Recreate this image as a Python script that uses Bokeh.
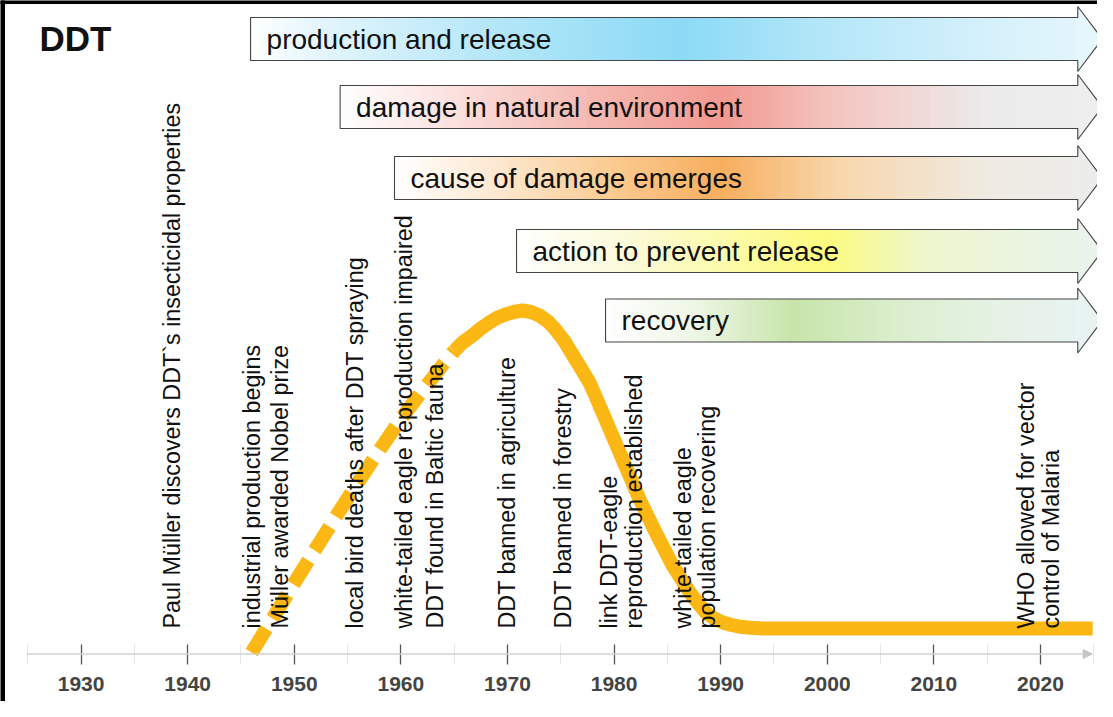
import numpy as np
from bokeh.plotting import figure
from bokeh.models import Range1d, FixedTicker, Arrow, NormalHead, Label
from bokeh.core.properties import value
from bokeh.embed import file_html
from bokeh.resources import INLINE

# ---------------- data ----------------
tick_years = [1930, 1940, 1950, 1960, 1970, 1980, 1990, 2000, 2010, 2020]
tick_labels = ["1930", "1940", "1950", "1960", "1970", "1980", "1990", "2000", "2010", "2020"]
minor_years = [1925, 1935, 1945, 1955, 1965, 1975, 1985, 1995, 2005, 2015, 2025]

phase_labels = ["production and release", "damage in natural environment",
                "cause of damage emerges", "action to prevent release", "recovery"]
phase_start = [1945.9, 1954.3, 1959.4, 1970.85, 1979.2]

event_years = [1938.5, 1946.0, 1948.7, 1955.7, 1960.3, 1963.2, 1970.0, 1975.2, 1980.7, 1987.6, 2019.8]
event_labels = [
    "Paul Müller discovers DDT`s insecticidal properties",
    "industrial production begins",
    "Müller awarded Nobel prize",
    "local bird deaths after DDT spraying",
    "white-tailed eagle reproduction impaired",
    "DDT found in Baltic fauna",
    "DDT banned in agriculture",
    "DDT banned in forestry",
    "link DDT-eagle\nreproduction established",
    "white-tailed eagle\npopulation recovering",
    "WHO allowed for vector\ncontrol of Malaria",
]

# relative DDT level (arbitrary units, height above the time axis)
curve_years = [1946, 1948, 1950, 1952, 1954, 1956, 1958, 1960, 1962, 1964, 1965,
               1965.8, 1966.7, 1967.5, 1968.3, 1969.0, 1969.8, 1970.6, 1971.4, 1972.2, 1973.0,
               1973.8, 1974.5, 1975.3, 1976.1, 1977.7, 1979.2,
               1980.8, 1982.4, 1983.9, 1985.5, 1987.1, 1987.9, 1988.6, 1989.4, 1990.2, 1991.0,
               1991.8, 1992.8, 1994, 2024.9]
curve_level = [1.5, 36, 71, 105, 139, 172, 204, 235, 263, 290, 303,
               311.5, 318.5, 325.5, 331.5, 336, 339.5, 342, 343.5, 342, 338.5,
               332.5, 324.5, 313.5, 299.5, 271.5, 234.5,
               194.5, 154.5, 121.5, 88.5, 61.5, 50.5, 41.5, 35.5, 31.5, 29,
               27.3, 26.2, 25.5, 25.5]
dashed_until = 1965

# ---------------- styles ----------------
FONT = "Liberation Sans"
X0, X1 = 1922.44, 2025.35
Y0, Y1 = -47.5, 653.5
W, H = 1097, 701
ppy = W / (X1 - X0)

arrow_centers = [615.0, 547.0, 476.0, 403.0, 333.5]
arrow_half = 21.5
head_half = 32.5
body_end = 2023.5
tip = 2025.8

gradients = [
    [(0, "#ffffff"), (0.085, "#e3f5fc"), (0.284, "#b5e7f8"), (0.507, "#8cdaf6"),
     (0.695, "#b8e8f9"), (0.871, "#d6f1fb"), (1.0, "#e6f6fc")],
    [(0, "#ffffff"), (0.134, "#fbe4e2"), (0.33, "#f5b8b1"), (0.5, "#f19a91"),
     (0.656, "#f4c6c2"), (0.853, "#ececec"), (1.0, "#eeeeee")],
    [(0, "#ffffff"), (0.14, "#fde9d2"), (0.31, "#fbca90"), (0.46, "#f7ae5e"),
     (0.63, "#f8d7ad"), (0.84, "#efebe3"), (1.0, "#ececec")],
    [(0, "#ffffff"), (0.2, "#fbfad6"), (0.42, "#fdfb99"), (0.53, "#fcfb7f"),
     (0.7, "#eef6cf"), (1.0, "#eaf4ee")],
    [(0, "#ffffff"), (0.18, "#eef6e6"), (0.38, "#c8e5aa"), (0.58, "#dbeecd"),
     (0.8, "#e6f2e6"), (1.0, "#e8f3f3")],
]


def hex2rgb(h):
    h = h.lstrip("#")
    return np.array([int(h[i:i + 2], 16) for i in (0, 2, 4)], dtype=float)


def color_at(stops, f):
    for (f0, c0), (f1, c1) in zip(stops[:-1], stops[1:]):
        if f <= f1:
            t = 0 if f1 == f0 else (f - f0) / (f1 - f0)
            c = hex2rgb(c0) * (1 - t) + hex2rgb(c1) * t
            return "#%02x%02x%02x" % tuple(int(round(v)) for v in c)
    return stops[-1][1]


p = figure(width=W, height=H, x_range=Range1d(X0, X1), y_range=Range1d(Y0, Y1),
           output_backend="svg", toolbar_location=None, y_axis_location=None,
           min_border=0, min_border_left=0, min_border_right=0,
           min_border_top=0, min_border_bottom=0,
           background_fill_color="white", border_fill_color="white",
           outline_line_color=None)
p.xgrid.visible = False
p.ygrid.visible = False

# ---------------- phase arrows ----------------
N = 120
for i, (lab, start) in enumerate(zip(phase_labels, phase_start)):
    c = arrow_centers[i]
    stops = gradients[i]
    edges = np.linspace(start, body_end, N + 1)
    total = tip - start
    cols = [color_at(stops, ((a + b) / 2 - start) / total) for a, b in zip(edges[:-1], edges[1:])]
    rights = np.minimum(edges[1:] + 0.25, body_end)
    p.quad(left=edges[:-1], right=rights, bottom=c - arrow_half, top=c + arrow_half,
           fill_color=cols, line_color=None)
    p.patch(x=[body_end - 0.05, body_end - 0.05, tip, body_end - 0.05],
            y=[c + head_half, c + head_half, c, c - head_half],
            fill_color=color_at(stops, 0.99), line_color=None)
    p.patch(x=[start, body_end, body_end, tip, body_end, body_end, start],
            y=[c + arrow_half, c + arrow_half, c + head_half, c, c - head_half, c - arrow_half, c - arrow_half],
            fill_alpha=0, line_color="#444444", line_width=1.1)
    p.text(x=[start], y=[c], text=[lab], x_offset=16, text_baseline="middle", text_align="left",
           text_font=value(FONT), text_font_size="28px", text_color="#111111")

# ---------------- DDT curve ----------------
cy = np.array(curve_years, dtype=float)
cl = np.array(curve_level, dtype=float)
dm = cy <= dashed_until
sm = cy >= dashed_until
p.line(cy[dm], cl[dm], line_color="#fbb714", line_width=14, line_dash="28 12", line_cap="butt")
p.line(cy[sm], cl[sm], line_color="#fbb714", line_width=14, line_join="round", line_cap="butt")

# ---------------- event labels ----------------
label_base = 25.5
p.text(x=event_years, y=[label_base] * len(event_years), text=event_labels, angle=np.pi / 2,
       text_align="left", text_baseline="middle", text_font=value(FONT),
       text_font_size="23.3px", text_color="#111111", text_line_height=0.95)

# ---------------- time axis ----------------
ax = p.xaxis[0]
ax.ticker = FixedTicker(ticks=tick_years, minor_ticks=minor_years)
ax.major_label_overrides = {y: s for y, s in zip(tick_years, tick_labels)}
ax.fixed_location = 0
ax.axis_line_color = None
ax.major_tick_in = 10
ax.major_tick_out = 10
ax.major_tick_line_color = "#555555"
ax.major_tick_line_width = 1.3
ax.minor_tick_in = 10
ax.minor_tick_out = 10
ax.minor_tick_line_color = "#e6e6e6"
ax.major_label_text_font = FONT
ax.major_label_text_font_style = "bold"
ax.major_label_text_font_size = "21px"
ax.major_label_text_color = "#444444"
ax.major_label_standoff = 13

p.add_layout(Arrow(end=NormalHead(size=9, fill_color="#c4c4c4", line_color="#c4c4c4"),
                   x_start=1924.9, y_start=0, x_end=2024.85, y_end=0,
                   line_color="#d2d2d2", line_width=1.5))

# title
p.add_layout(Label(x=1926.1, y=615.5, text="DDT", text_font=FONT, text_font_style="bold",
                   text_font_size="35px", text_color="#111111", text_baseline="middle"))

# frame border (top and left)
p.quad(left=[X0 - 1], right=[X0 + 4 / ppy], bottom=[Y0 - 10], top=[Y1 + 10], color="black")
p.quad(left=[X0 - 1], right=[X1 + 1], bottom=[Y1 - 3], top=[Y1 + 10], color="black")

open("out.html", "w").write(file_html(p, INLINE))
